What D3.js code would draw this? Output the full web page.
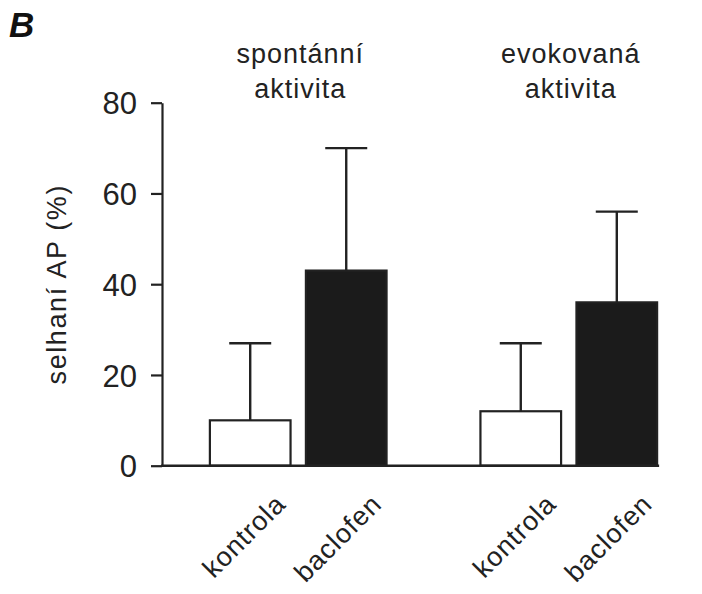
<!DOCTYPE html>
<html>
<head>
<meta charset="utf-8">
<script src="https://cdn.jsdelivr.net/npm/d3@7"></script>
<style>
  html, body { margin: 0; padding: 0; background: #fff; }
  svg { display: block; }
  text { font-family: "Liberation Sans", Arial, sans-serif; fill: #222; }
</style>
</head>
<body>
<svg id="chart" width="702" height="594"></svg>
<script>
// Data
const groups = ["spontánní aktivita", "evokovaná aktivita"];
const conditions = ["kontrola", "baclofen"];
const meanValues = [[10, 43], [12, 36]];
const errorValues = [[17, 27], [15, 20]];   // upper error (added to the mean)
const yTicks = [0, 20, 40, 60, 80];
const yLabel = "selhaní AP (%)";
const panelLabel = "B";

const rows = [];
groups.forEach((g, gi) => conditions.forEach((c, ci) => {
  rows.push({ group: g, cond: c, value: meanValues[gi][ci], err: errorValues[gi][ci] });
}));

const svg = d3.select("#chart");
const ink = "#222";

const y = d3.scaleLinear().domain([0, 80]).range([465.7, 102.7]);
const x0 = d3.scaleBand().domain(groups).range([162, 705])
  .paddingInner(0.347).paddingOuter(0.177);
const x1 = d3.scaleBand().domain(conditions).range([0, x0.bandwidth()])
  .paddingInner(0.16).paddingOuter(0);

// Panel letter
svg.append("text").attr("x", 9).attr("y", 37)
  .attr("font-size", 35).attr("font-weight", "bold").attr("font-style", "italic")
  .style("fill", "#111").text(panelLabel);

// Group titles (two lines each)
groups.forEach(g => {
  const cx = x0(g) + x0.bandwidth() / 2 + 2;
  const t = svg.append("text").attr("text-anchor", "middle")
    .attr("font-size", 27).attr("letter-spacing", 1);
  g.split(" ").forEach((w, i) => {
    t.append("tspan").attr("x", cx).attr("y", 63 + i * 35).text(w);
  });
});

// Y axis
const yAxis = d3.axisLeft(y).tickValues(yTicks).tickSize(11).tickSizeOuter(0).tickPadding(14);
const ya = svg.append("g").attr("transform", "translate(162,0)").call(yAxis);
ya.select(".domain").attr("stroke", ink).attr("stroke-width", 2.2);
ya.selectAll(".tick line").attr("stroke", ink).attr("stroke-width", 2.2);
ya.selectAll(".tick text").attr("font-size", 31).attr("dy", "0.36em")
  .style("font-family", "'Liberation Sans', Arial, sans-serif").style("fill", ink);

// Y label
svg.append("text")
  .attr("transform", `translate(66,${y(40)}) rotate(-90)`)
  .attr("text-anchor", "middle").attr("font-size", 27).attr("letter-spacing", 1.6)
  .text(yLabel);

// Bars
const bars = svg.append("g");
bars.selectAll("rect").data(rows).join("rect")
  .attr("x", d => x0(d.group) + x1(d.cond))
  .attr("y", d => y(d.value))
  .attr("width", x1.bandwidth())
  .attr("height", d => y(0) - y(d.value))
  .attr("fill", d => d.cond === "baclofen" ? "#1b1b1b" : "#fff")
  .attr("stroke", ink).attr("stroke-width", 2.2);

// Error bars (upper only)
const capW = 42;
const eb = svg.append("g").attr("stroke", ink).attr("stroke-width", 2.4);
rows.forEach(d => {
  const cx = x0(d.group) + x1(d.cond) + x1.bandwidth() / 2;
  eb.append("line").attr("x1", cx).attr("x2", cx)
    .attr("y1", y(d.value)).attr("y2", y(d.value + d.err));
  eb.append("line").attr("x1", cx - capW / 2).attr("x2", cx + capW / 2)
    .attr("y1", y(d.value + d.err)).attr("y2", y(d.value + d.err));
});

// Baseline
const lastRow = rows[rows.length - 1];
svg.append("line").attr("x1", 161).attr("x2", x0(lastRow.group) + x1(lastRow.cond) + x1.bandwidth() + 2)
  .attr("y1", y(0)).attr("y2", y(0)).attr("stroke", ink).attr("stroke-width", 2.4);

// Category labels, rotated
rows.forEach(d => {
  const cx = x0(d.group) + x1(d.cond) + x1.bandwidth() / 2;
  svg.append("text")
    .attr("transform", `translate(${cx + 37},${y(0) + 40}) rotate(-45)`)
    .attr("text-anchor", "end").attr("font-size", 27).attr("letter-spacing", 1)
    .text(d.cond);
});
</script>
</body>
</html>
